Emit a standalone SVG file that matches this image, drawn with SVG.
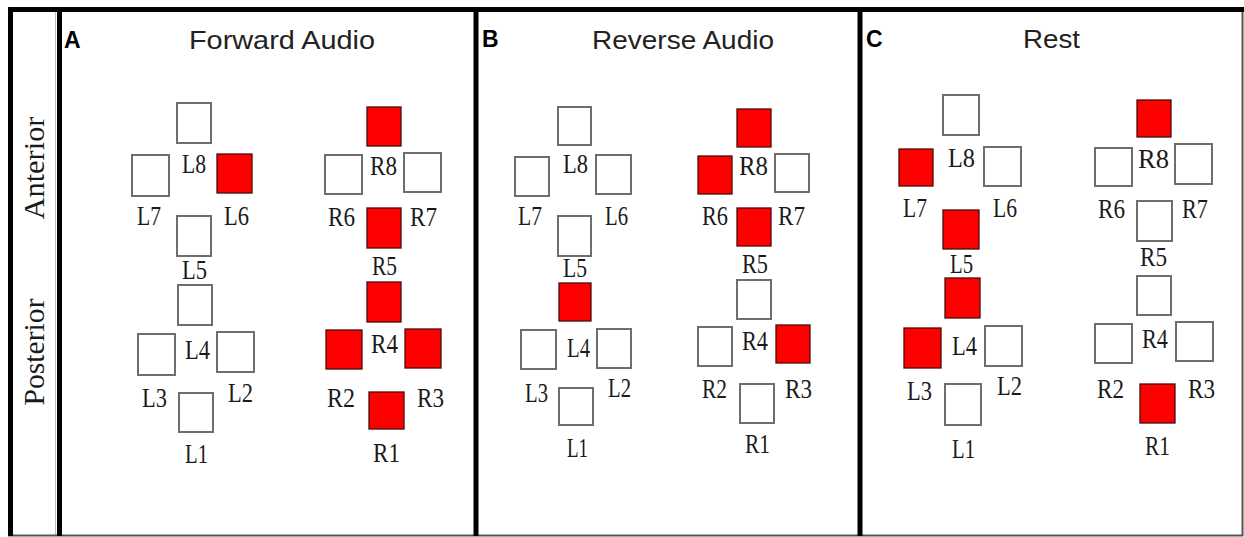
<svg xmlns="http://www.w3.org/2000/svg" width="1244" height="537" viewBox="0 0 1244 537">
<style>
.frame{stroke:#000;stroke-width:5;fill:none}
.thin{stroke:#bdbdbd;stroke-width:1;fill:none}
.edge{stroke:#555;stroke-width:2;fill:none}
.off{fill:#fff;stroke:#6e6e6e;stroke-width:2}
.on{fill:#ff0000;stroke:#4a0b0b;stroke-width:1.3}
.lbl{font-family:"Liberation Serif","Times New Roman",serif;font-size:27px;fill:#1a1a1a}
.side{font-family:"Liberation Serif","Times New Roman",serif;font-size:29px;fill:#1a1a1a}
.title{font-family:"Liberation Sans",Arial,sans-serif;font-size:26px;fill:#222}
.letter{font-family:"Liberation Sans",Arial,sans-serif;font-size:23px;font-weight:bold;fill:#000}
</style>
<rect x="0" y="0" width="1244" height="537" fill="#fff"/>
<g id="frame">
<line class="thin" x1="55.5" y1="12" x2="55.5" y2="535"/>
<line class="edge" x1="1242.5" y1="12" x2="1242.5" y2="536"/>
<line class="edge" x1="8" y1="535.5" x2="1243" y2="535.5"/>
<line class="frame" x1="8" y1="9.5" x2="1244" y2="9.5"/>
<line class="frame" x1="10.5" y1="7" x2="10.5" y2="536"/>
<line class="frame" x1="59.5" y1="7" x2="59.5" y2="536"/>
<line class="frame" x1="476" y1="7" x2="476" y2="536"/>
<line class="frame" x1="860" y1="7" x2="860" y2="536"/>
</g>
<g id="side-labels">
<text class="side" transform="translate(44,168) rotate(-90)" text-anchor="middle" textLength="103" lengthAdjust="spacingAndGlyphs">Anterior</text>
<text class="side" transform="translate(44,352) rotate(-90)" text-anchor="middle" textLength="107" lengthAdjust="spacingAndGlyphs">Posterior</text>
</g>
<g id="titles">
<text class="letter" x="64" y="48">A</text>
<text class="title" x="189" y="49" textLength="186" lengthAdjust="spacingAndGlyphs">Forward Audio</text>
<text class="letter" x="482" y="47">B</text>
<text class="title" x="592" y="49" textLength="182" lengthAdjust="spacingAndGlyphs">Reverse Audio</text>
<text class="letter" x="866" y="47">C</text>
<text class="title" x="1023" y="48" textLength="57" lengthAdjust="spacingAndGlyphs">Rest</text>
</g>
<g id="connectors"></g>
<!-- Panel A -->
<g id="panelA">
<g id="A-L8"><rect class="off" x="177" y="103" width="34" height="40"/><text class="lbl" x="182" y="173" textLength="24" lengthAdjust="spacingAndGlyphs">L8</text></g>
<g id="A-L7"><rect class="off" x="132" y="155" width="37" height="41"/><text class="lbl" x="137" y="225" textLength="24" lengthAdjust="spacingAndGlyphs">L7</text></g>
<g id="A-L6"><rect class="on" x="217" y="154" width="35" height="39"/><text class="lbl" x="224" y="225" textLength="25" lengthAdjust="spacingAndGlyphs">L6</text></g>
<g id="A-L5"><rect class="off" x="177" y="216" width="34" height="40"/><text class="lbl" x="182" y="279" textLength="25" lengthAdjust="spacingAndGlyphs">L5</text></g>
<g id="A-R8"><rect class="on" x="367" y="107" width="34" height="39"/><text class="lbl" x="370" y="175" textLength="27" lengthAdjust="spacingAndGlyphs">R8</text></g>
<g id="A-R6"><rect class="off" x="325" y="155" width="37" height="39"/><text class="lbl" x="328" y="226" textLength="27" lengthAdjust="spacingAndGlyphs">R6</text></g>
<g id="A-R7"><rect class="off" x="404" y="153" width="37" height="39"/><text class="lbl" x="410" y="226" textLength="27" lengthAdjust="spacingAndGlyphs">R7</text></g>
<g id="A-R5"><rect class="on" x="367" y="208" width="34" height="40"/><text class="lbl" x="372" y="275" textLength="25" lengthAdjust="spacingAndGlyphs">R5</text></g>
<g id="A-L4"><rect class="off" x="178" y="285" width="34" height="40"/><text class="lbl" x="185" y="359" textLength="25" lengthAdjust="spacingAndGlyphs">L4</text></g>
<g id="A-L3"><rect class="off" x="138" y="334" width="37" height="41"/><text class="lbl" x="142" y="407" textLength="25" lengthAdjust="spacingAndGlyphs">L3</text></g>
<g id="A-L2"><rect class="off" x="217" y="332" width="37" height="40"/><text class="lbl" x="228" y="402" textLength="25" lengthAdjust="spacingAndGlyphs">L2</text></g>
<g id="A-L1"><rect class="off" x="179" y="393" width="34" height="39"/><text class="lbl" x="185" y="463" textLength="23" lengthAdjust="spacingAndGlyphs">L1</text></g>
<g id="A-R4"><rect class="on" x="367" y="282" width="34" height="40"/><text class="lbl" x="371" y="353" textLength="27" lengthAdjust="spacingAndGlyphs">R4</text></g>
<g id="A-R2"><rect class="on" x="326" y="330" width="36" height="39"/><text class="lbl" x="327" y="407" textLength="28" lengthAdjust="spacingAndGlyphs">R2</text></g>
<g id="A-R3"><rect class="on" x="405" y="329" width="36" height="39"/><text class="lbl" x="417" y="407" textLength="27" lengthAdjust="spacingAndGlyphs">R3</text></g>
<g id="A-R1"><rect class="on" x="369" y="392" width="35" height="37"/><text class="lbl" x="373" y="462" textLength="27" lengthAdjust="spacingAndGlyphs">R1</text></g>
</g>
<!-- Panel B -->
<g id="panelB">
<g id="B-L8"><rect class="off" x="558" y="107" width="33" height="38"/><text class="lbl" x="563" y="173" textLength="25" lengthAdjust="spacingAndGlyphs">L8</text></g>
<g id="B-L7"><rect class="off" x="515" y="157" width="34" height="39"/><text class="lbl" x="518" y="225" textLength="24" lengthAdjust="spacingAndGlyphs">L7</text></g>
<g id="B-L6"><rect class="off" x="596" y="155" width="35" height="39"/><text class="lbl" x="605" y="225" textLength="23" lengthAdjust="spacingAndGlyphs">L6</text></g>
<g id="B-L5"><rect class="off" x="558" y="216" width="33" height="40"/><text class="lbl" x="563" y="277" textLength="24" lengthAdjust="spacingAndGlyphs">L5</text></g>
<g id="B-R8"><rect class="on" x="737" y="109" width="34" height="38"/><text class="lbl" x="739" y="175" textLength="29" lengthAdjust="spacingAndGlyphs">R8</text></g>
<g id="B-R6"><rect class="on" x="698" y="156" width="34" height="38"/><text class="lbl" x="702" y="225" textLength="26" lengthAdjust="spacingAndGlyphs">R6</text></g>
<g id="B-R7"><rect class="off" x="775" y="154" width="34" height="38"/><text class="lbl" x="778" y="225" textLength="27" lengthAdjust="spacingAndGlyphs">R7</text></g>
<g id="B-R5"><rect class="on" x="737" y="208" width="34" height="38"/><text class="lbl" x="742" y="273" textLength="26" lengthAdjust="spacingAndGlyphs">R5</text></g>
<g id="B-L4"><rect class="on" x="559" y="283" width="32" height="38"/><text class="lbl" x="567" y="357" textLength="23" lengthAdjust="spacingAndGlyphs">L4</text></g>
<g id="B-L3"><rect class="off" x="521" y="330" width="35" height="39"/><text class="lbl" x="525" y="402" textLength="23" lengthAdjust="spacingAndGlyphs">L3</text></g>
<g id="B-L2"><rect class="off" x="597" y="329" width="34" height="39"/><text class="lbl" x="608" y="397" textLength="23" lengthAdjust="spacingAndGlyphs">L2</text></g>
<g id="B-L1"><rect class="off" x="559" y="388" width="34" height="37"/><text class="lbl" x="567" y="457" textLength="21" lengthAdjust="spacingAndGlyphs">L1</text></g>
<g id="B-R4"><rect class="off" x="737" y="280" width="34" height="39"/><text class="lbl" x="742" y="350" textLength="26" lengthAdjust="spacingAndGlyphs">R4</text></g>
<g id="B-R2"><rect class="off" x="698" y="327" width="34" height="39"/><text class="lbl" x="702" y="398" textLength="25" lengthAdjust="spacingAndGlyphs">R2</text></g>
<g id="B-R3"><rect class="on" x="776" y="325" width="34" height="38"/><text class="lbl" x="785" y="398" textLength="27" lengthAdjust="spacingAndGlyphs">R3</text></g>
<g id="B-R1"><rect class="off" x="740" y="384" width="34" height="39"/><text class="lbl" x="745" y="453" textLength="25" lengthAdjust="spacingAndGlyphs">R1</text></g>
</g>
<!-- Panel C -->
<g id="panelC">
<g id="C-L8"><rect class="off" x="943" y="95" width="36" height="40"/><text class="lbl" x="948" y="167" textLength="27" lengthAdjust="spacingAndGlyphs">L8</text></g>
<g id="C-L7"><rect class="on" x="899" y="149" width="34" height="37"/><text class="lbl" x="903" y="217" textLength="24" lengthAdjust="spacingAndGlyphs">L7</text></g>
<g id="C-L6"><rect class="off" x="984" y="147" width="37" height="39"/><text class="lbl" x="993" y="217" textLength="24" lengthAdjust="spacingAndGlyphs">L6</text></g>
<g id="C-L5"><rect class="on" x="943" y="210" width="36" height="39"/><text class="lbl" x="950" y="273" textLength="23" lengthAdjust="spacingAndGlyphs">L5</text></g>
<g id="C-R8"><rect class="on" x="1137" y="100" width="34" height="37"/><text class="lbl" x="1138" y="168" textLength="31" lengthAdjust="spacingAndGlyphs">R8</text></g>
<g id="C-R6"><rect class="off" x="1095" y="148" width="37" height="38"/><text class="lbl" x="1098" y="218" textLength="27" lengthAdjust="spacingAndGlyphs">R6</text></g>
<g id="C-R7"><rect class="off" x="1175" y="144" width="37" height="40"/><text class="lbl" x="1182" y="218" textLength="26" lengthAdjust="spacingAndGlyphs">R7</text></g>
<g id="C-R5"><rect class="off" x="1137" y="201" width="35" height="40"/><text class="lbl" x="1140" y="266" textLength="27" lengthAdjust="spacingAndGlyphs">R5</text></g>
<g id="C-L4"><rect class="on" x="945" y="278" width="35" height="40"/><text class="lbl" x="952" y="355" textLength="25" lengthAdjust="spacingAndGlyphs">L4</text></g>
<g id="C-L3"><rect class="on" x="904" y="328" width="37" height="40"/><text class="lbl" x="907" y="400" textLength="25" lengthAdjust="spacingAndGlyphs">L3</text></g>
<g id="C-L2"><rect class="off" x="985" y="326" width="37" height="40"/><text class="lbl" x="997" y="395" textLength="25" lengthAdjust="spacingAndGlyphs">L2</text></g>
<g id="C-L1"><rect class="off" x="945" y="384" width="36" height="41"/><text class="lbl" x="952" y="458" textLength="23" lengthAdjust="spacingAndGlyphs">L1</text></g>
<g id="C-R4"><rect class="off" x="1137" y="276" width="34" height="39"/><text class="lbl" x="1142" y="348" textLength="26" lengthAdjust="spacingAndGlyphs">R4</text></g>
<g id="C-R2"><rect class="off" x="1095" y="324" width="37" height="39"/><text class="lbl" x="1097" y="398" textLength="27" lengthAdjust="spacingAndGlyphs">R2</text></g>
<g id="C-R3"><rect class="off" x="1176" y="322" width="37" height="39"/><text class="lbl" x="1188" y="398" textLength="27" lengthAdjust="spacingAndGlyphs">R3</text></g>
<g id="C-R1"><rect class="on" x="1140" y="384" width="35" height="39"/><text class="lbl" x="1145" y="455" textLength="25" lengthAdjust="spacingAndGlyphs">R1</text></g>
</g>
</svg>
